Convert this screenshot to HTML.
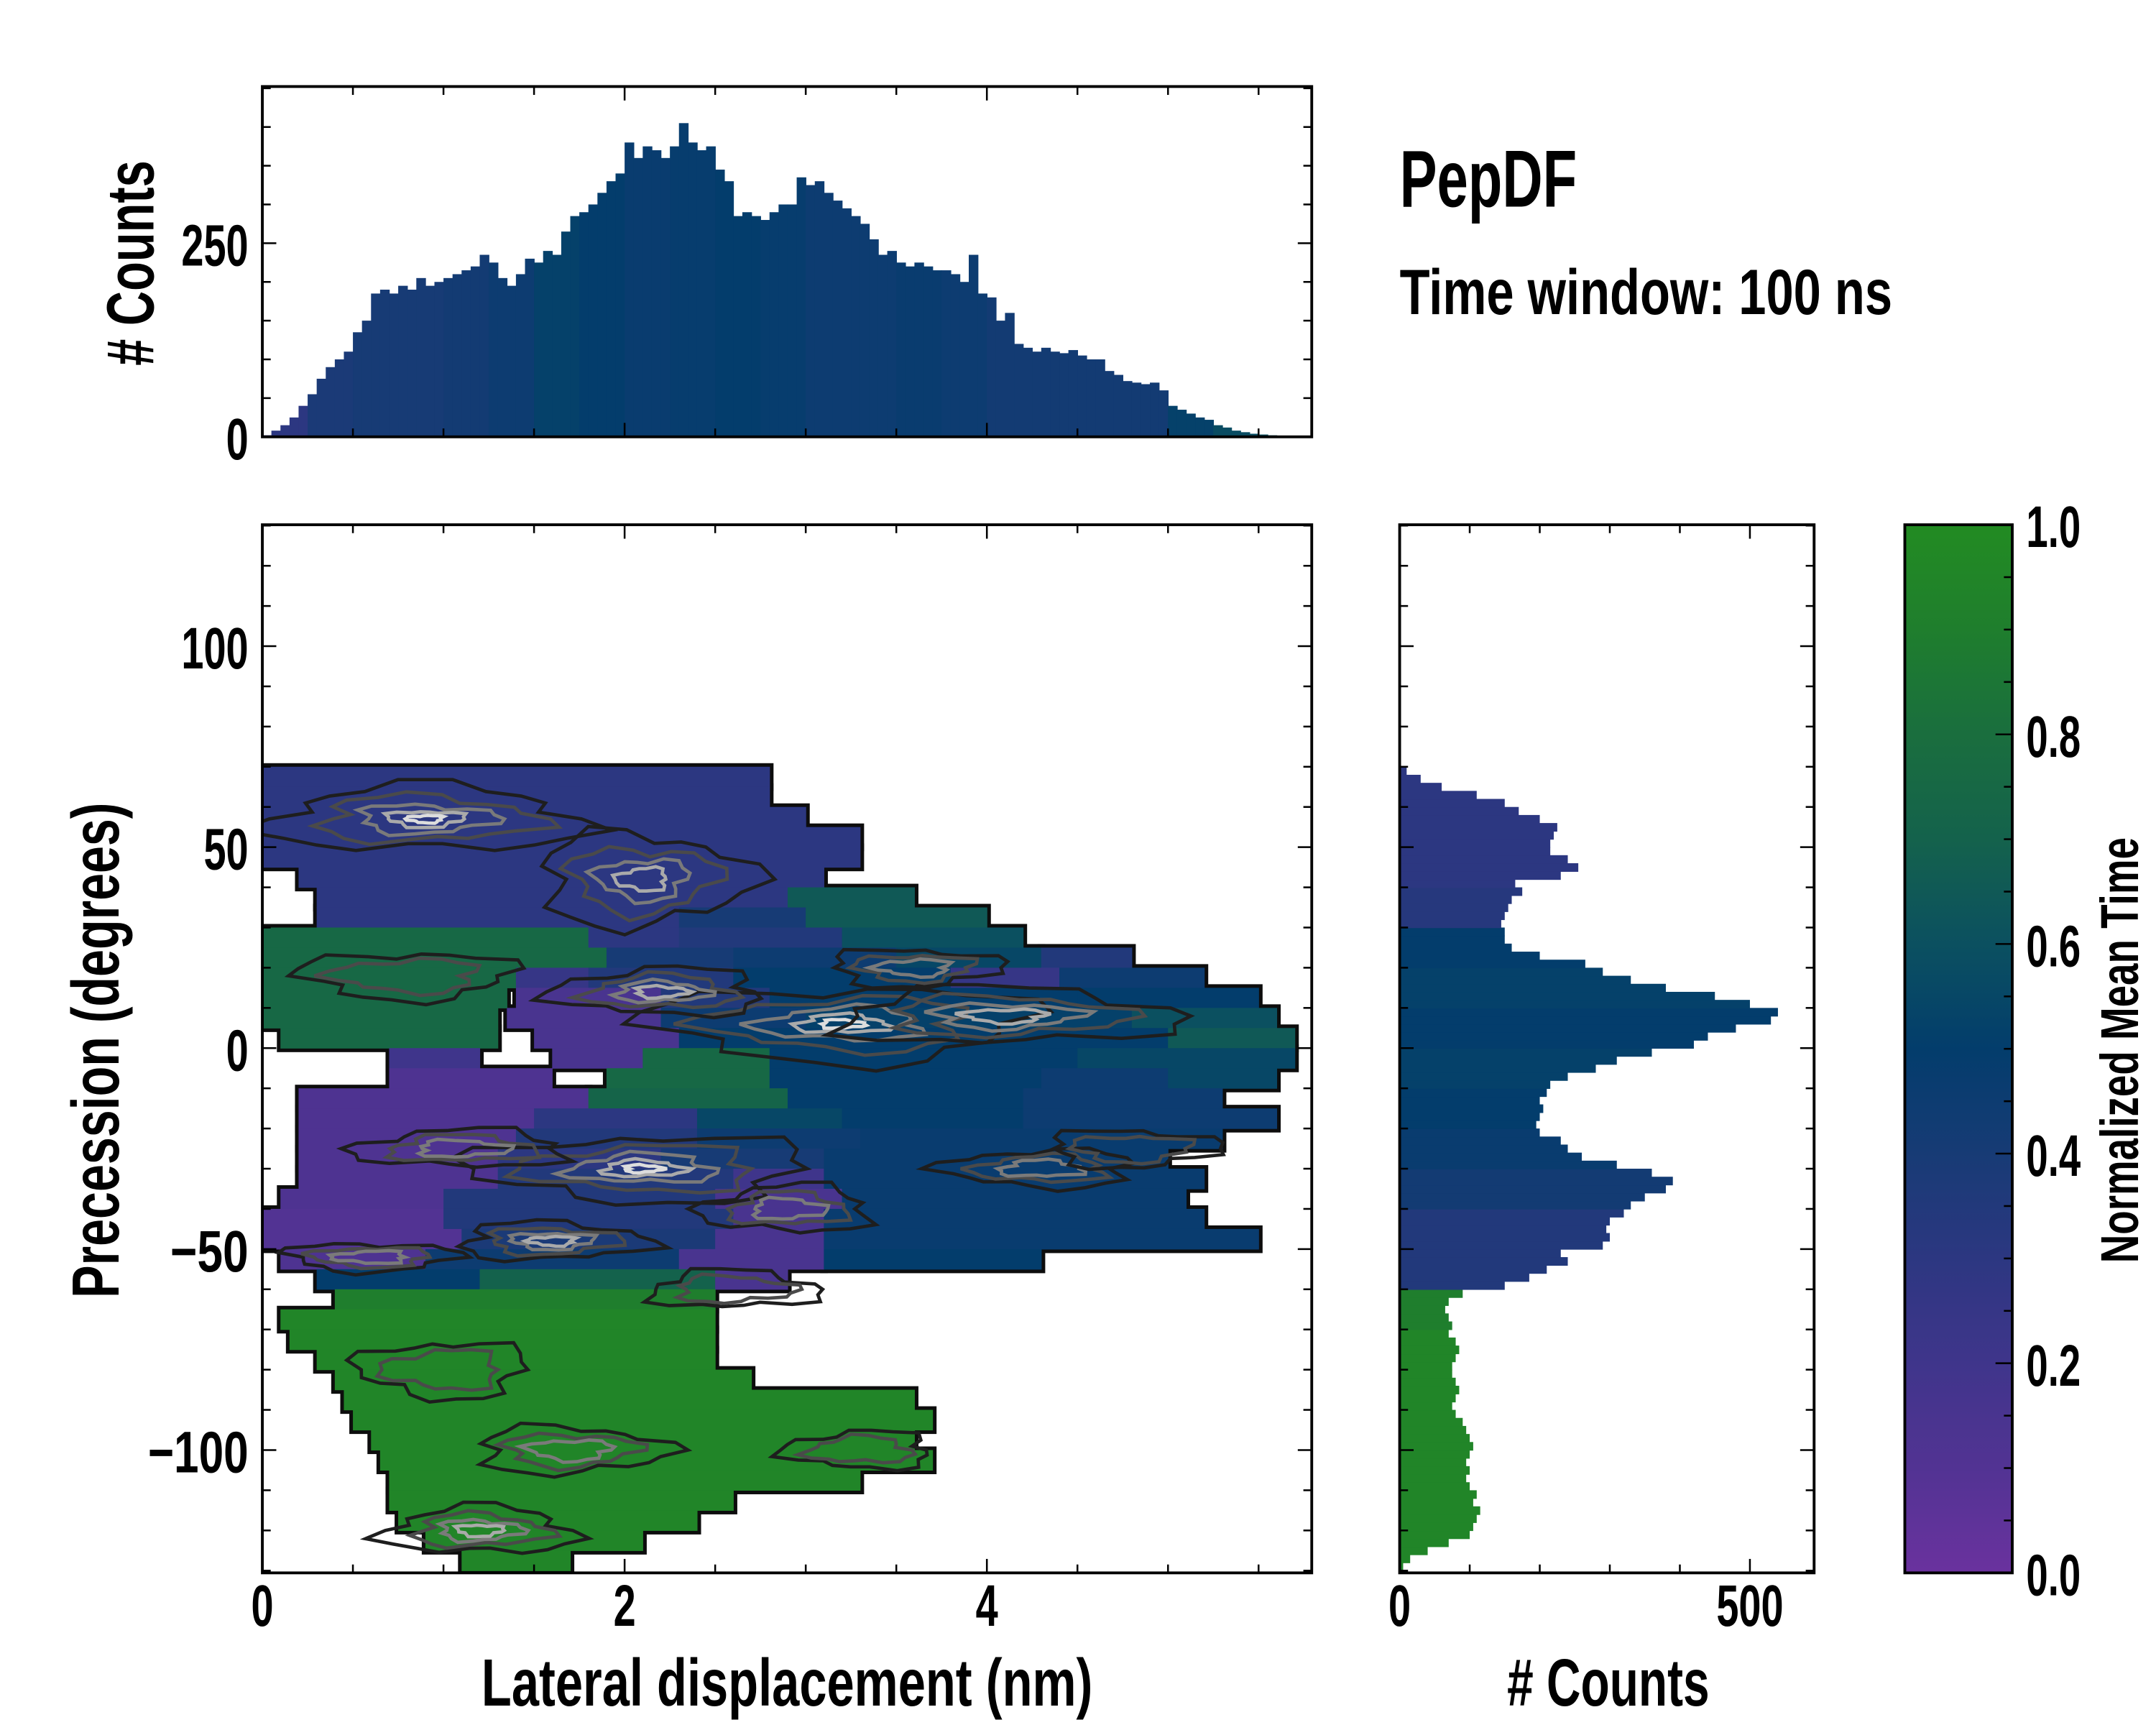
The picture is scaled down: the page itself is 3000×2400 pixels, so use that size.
<!DOCTYPE html>
<html><head><meta charset="utf-8">
<style>
html,body{margin:0;padding:0;background:#fff;}
svg{display:block;}
text{font-family:"Liberation Sans",sans-serif;font-weight:bold;fill:#000;}
</style></head>
<body>
<svg id="fig" xmlns="http://www.w3.org/2000/svg" width="3000" height="2400" viewBox="0 0 1545 1236">
<defs>
<clipPath id="mainClip"><rect x="188" y="376" width="752" height="751"/></clipPath>
<clipPath id="topClip"><rect x="188" y="62" width="752" height="251"/></clipPath>
<clipPath id="rightClip"><rect x="1003" y="376" width="297" height="751"/></clipPath>
<linearGradient id="cbGrad" x1="0" y1="1" x2="0" y2="0"></linearGradient>
<filter id="outl" x="-5%" y="-5%" width="110%" height="110%">
<feMorphology operator="dilate" radius="2.6" in="SourceAlpha" result="d"/>
<feFlood flood-color="#111"/>
<feComposite in2="d" operator="in"/>
</filter>
</defs>
<g id="topHist" clip-path="url(#topClip)"></g>
<g id="heatOutline" clip-path="url(#mainClip)" filter="url(#outl)"></g>
<g id="heat" clip-path="url(#mainClip)"></g>
<g id="contours" clip-path="url(#mainClip)"></g>
<g id="rightHist" clip-path="url(#rightClip)"></g>
<rect x="1365" y="376" width="77" height="751" fill="url(#cbGrad)" stroke="#000" stroke-width="2"/>
<g id="axes"></g>
<text x="1003" y="148" font-size="58" textLength="127" lengthAdjust="spacingAndGlyphs">PepDF</text>
<text x="1003" y="225" font-size="46" textLength="353" lengthAdjust="spacingAndGlyphs">Time window: 100 ns</text>
<text x="345" y="1222" font-size="48" textLength="438" lengthAdjust="spacingAndGlyphs">Lateral displacement (nm)</text>
<text x="1080" y="1222" font-size="48" textLength="145" lengthAdjust="spacingAndGlyphs"># Counts</text>
<text transform="translate(85,930) rotate(-90)" font-size="48" textLength="355" lengthAdjust="spacingAndGlyphs">Precession (degrees)</text>
<text transform="translate(110,262) rotate(-90)" font-size="48" textLength="147" lengthAdjust="spacingAndGlyphs"># Counts</text>
<text transform="translate(1532,905) rotate(-90)" font-size="38" textLength="305" lengthAdjust="spacingAndGlyphs">Normalized Mean Time</text>
</svg>
<script>
// ---- data ----
const topBinWidth = 0.05;
const topCounts = [2,8,15,25,40,55,75,90,100,110,135,150,185,190,185,195,190,205,195,200,205,210,215,220,235,225,205,195,210,230,225,240,235,265,285,290,300,315,330,340,380,360,375,370,360,375,405,380,370,375,345,330,285,290,285,280,290,300,300,335,325,330,315,305,295,285,275,255,235,240,225,220,225,220,215,215,210,200,235,185,180,150,160,120,115,110,115,110,108,112,105,100,100,85,80,72,70,68,70,60,40,35,30,25,22,15,12,8,6,4,3,2,1,0,0];
const topMeanTime = [0.3,0.38,0.4,0.4,0.42,0.45,0.52,0.5,0.47,0.48,0.5,0.48,0.45,0.45,0.47,0.45,0.42,0.42,0.42,0.42,0.52,0.58,0.6];
const rightStart = -130;
const rightBinWidth = 2;
const rightCounts = [5,15,40,70,100,105,110,115,105,110,100,95,100,95,100,105,100,95,90,80,75,80,85,80,75,75,80,85,80,70,75,70,65,70,90,150,185,210,240,230,290,300,295,300,320,330,350,380,390,360,310,260,240,230,200,195,200,205,200,210,215,240,280,310,360,420,440,480,530,540,500,450,380,330,290,265,200,160,150,150,145,150,155,160,175,165,230,255,240,215,215,220,225,200,170,150,110,60,30,10];
const rightMeanTime = [0.95,0.95,0.95,0.95,0.95,0.95,0.9,0.35,0.35,0.42,0.47,0.5,0.52,0.5,0.52,0.5,0.33,0.3,0.3,0.3];
const heatRowLow = [65,60,55,50,45,40,35,30,25,20,15,10,5,0,-5,-10,-15,-20,-25,-30,-35,-40,-45,-50,-55,-60,-65,-70,-75,-80,-85,-90,-95,-100,-105,-110,-115,-120,-125,-130];
const heatRowSegs = [
 [[0,2.8,0.3]],
 [[0,2.8,0.3]],
 [[0,3.0,0.3]],
 [[0,3.3,0.3]],
 [[0,3.3,0.3]],
 [[0.2,3.1,0.3]],
 [[0.3,2.9,0.3],[2.9,3.6,0.65]],
 [[0.3,2.3,0.3],[2.3,3.0,0.4],[3.0,4.0,0.65]],
 [[0,1.8,0.75],[1.8,2.3,0.3],[2.3,3.2,0.35],[3.2,4.2,0.6]],
 [[0,1.9,0.75],[1.9,2.6,0.4],[2.6,3.5,0.45],[3.5,4.3,0.55],[4.3,4.8,0.35]],
 [[0,1.4,0.75],[1.4,1.8,0.25],[1.8,2.6,0.35],[2.6,3.8,0.5],[3.8,4.4,0.25],[4.4,5.2,0.45]],
 [[0,1.35,0.75],[1.4,2.2,0.15],[2.2,2.8,0.35],[2.8,4.5,0.5],[4.5,5.5,0.5]],
 [[0,1.3,0.75],[1.35,2.2,0.15],[2.2,3.0,0.45],[3.0,4.8,0.52],[4.8,5.6,0.6]],
 [[0.1,1.3,0.75],[1.5,2.3,0.15],[2.3,3.0,0.5],[3.0,5.0,0.5],[5.0,5.7,0.65]],
 [[0.7,1.2,0.2],[1.6,2.1,0.15],[2.1,2.8,0.75],[2.8,4.5,0.5],[4.5,5.7,0.55]],
 [[0.7,1.6,0.12],[1.9,2.8,0.75],[2.8,4.3,0.5],[4.3,5.0,0.45],[5.0,5.6,0.55]],
 [[0.2,1.8,0.12],[1.8,2.9,0.72],[2.9,4.2,0.5],[4.2,5.3,0.45]],
 [[0.2,1.5,0.12],[1.5,2.4,0.3],[2.4,3.2,0.55],[3.2,4.2,0.5],[4.2,5.6,0.45]],
 [[0.2,1.4,0.12],[1.4,2.4,0.35],[2.4,3.3,0.45],[3.3,5.3,0.47]],
 [[0.2,1.3,0.12],[1.3,2.2,0.3],[2.2,3.1,0.4],[3.1,5.0,0.47]],
 [[0.2,1.3,0.12],[1.3,2.6,0.35],[2.6,3.1,0.2],[3.1,5.2,0.47]],
 [[0.1,1.0,0.12],[1.0,2.5,0.35],[2.5,3.2,0.15],[3.2,5.1,0.47]],
 [[0,1.0,0.1],[1.0,2.6,0.35],[2.6,3.1,0.15],[3.1,5.2,0.47]],
 [[0,1.1,0.1],[1.1,2.5,0.38],[2.5,3.1,0.15],[3.1,5.5,0.47]],
 [[0.1,0.9,0.12],[0.9,2.3,0.45],[2.3,3.1,0.15],[3.1,4.3,0.5]],
 [[0.3,1.2,0.5],[1.2,2.5,0.7],[2.5,2.9,0.15]],
 [[0.4,2.5,0.9]],
 [[0.1,2.5,0.95]],
 [[0.15,2.5,0.95]],
 [[0.3,2.5,0.95]],
 [[0.4,2.7,0.95]],
 [[0.45,3.6,0.95]],
 [[0.5,3.7,0.95]],
 [[0.6,3.6,0.95]],
 [[0.65,3.7,0.95]],
 [[0.7,3.3,0.95]],
 [[0.7,2.6,0.95]],
 [[0.75,2.4,0.95]],
 [[0.9,2.1,0.95]],
 [[1.1,1.7,0.95]]
];
const peakX = [0.9,2.1,3.2,2.2,4.1,3.6,2.1,1.1,1.6,0.6,4.3,1.2,1.7,0.8,3.3,2.6,4.8,1.0,2.9];
const peakY = [57,42,6,14,8,20,-30,-25,-48,-52,-30,-120,-100,18,-100,-60,-25,-80,-40];
const peakRx = [0.75,0.5,0.9,0.5,0.8,0.4,0.8,0.5,0.45,0.4,0.45,0.45,0.45,0.5,0.35,0.4,0.4,0.4,0.4];
const peakRy = [7,10,8,5,6,4,7,4,4,3,4,5,5,5,4,4,4,6,5];
const peakLevel = [4,3,4,3,3,2,4,2,3,2,2,3,2,1,1,1,1,1,2];
// ---- scales ----
const NS = "http://www.w3.org/2000/svg";
const xS = v => 188 + v * 129.8;
const yS = d => 751 - d * 2.88;
const yT = c => 313 - c * 0.555;
const xR = c => 1003 + c * 0.502;
const yC = v => 1127 - v * 751;
const cStops = [[0,"#6a329e"],[0.1,"#523393"],[0.2,"#3f358b"],[0.3,"#2c3781"],[0.4,"#173b75"],[0.5,"#033d6c"],[0.6,"#0b5060"],[0.7,"#14624c"],[0.8,"#1a6e3e"],[0.9,"#1f7e2d"],[1,"#228b22"]];
function hex(h){return [1,3,5].map(i=>parseInt(h.substr(i,2),16));}
function cmap(v){
  v=Math.max(0,Math.min(1,v));
  for(let i=0;i<cStops.length-1;i++){
    const [a,ca]=cStops[i],[b,cb]=cStops[i+1];
    if(v<=b){const t=(v-a)/(b-a);const A=hex(ca),B=hex(cb);
      return "rgb("+A.map((x,k)=>Math.round(x+(B[k]-x)*t)).join(",")+")";}
  }
  return cStops[cStops.length-1][1];
}
function el(tag,attrs,parent){const e=document.createElementNS(NS,tag);for(const k in attrs)e.setAttribute(k,attrs[k]);parent.appendChild(e);return e;}
const grad=document.getElementById("cbGrad");
for(let i=0;i<=20;i++){el("stop",{offset:(i/20),"stop-color":cmap(i/20)},grad);}
// top histogram
const gTop=document.getElementById("topHist");
topCounts.forEach((c,i)=>{
  const x0=i*topBinWidth;
  const r=el("rect",{x:xS(x0),y:yT(c),width:xS(x0+topBinWidth)-xS(x0)+0.4,height:yT(0)-yT(c),fill:cmap(topMeanTime[Math.floor(i/5)])},gTop);
  
  
});
// right histogram
const gR=document.getElementById("rightHist");
rightCounts.forEach((c,i)=>{
  const d0=rightStart+i*rightBinWidth;
  const r=el("rect",{x:xR(0),y:yS(d0+rightBinWidth),width:xR(c)-xR(0),height:yS(d0)-yS(d0+rightBinWidth)+0.4,fill:cmap(rightMeanTime[Math.floor(i/5)])},gR);
  
  
});
// heatmap
const gH=document.getElementById("heat"), gO=document.getElementById("heatOutline");
heatRowLow.forEach((lo,i)=>{
  heatRowSegs[i].forEach(s=>{
    const at={x:xS(s[0]),y:yS(lo+5),width:xS(s[1])-xS(s[0])+0.3,height:yS(lo)-yS(lo+5)+0.3};
    const r=el("rect",Object.assign({fill:cmap(s[2])},at),gH);
    
    
    const o=el("rect",Object.assign({fill:"#000"},at),gO);
    
    
  });
});
// contours (wobbly rings)
const gC=document.getElementById("contours");
const ringCols=["#1e1e1e","#4a4a4a","#7a7a7a","#aaaaaa","#dddddd"];
const ringScale=[1.15,0.8,0.5,0.28,0.13];
peakX.forEach((px,i)=>{
  for(let k=0;k<=peakLevel[i];k++){
    const cx=xS(px), cy=yS(peakY[i]);
    const rx=(xS(peakRx[i]*ringScale[k])-xS(0)), ry=(yS(0)-yS(peakRy[i]*ringScale[k]));
    const pts=[];
    const n=22;
    for(let j=0;j<n;j++){
      const a=j/n*Math.PI*2;
      const w=1+0.18*Math.sin(a*3+i*1.7+k)+0.12*Math.sin(a*7+i*2.3);
      pts.push((cx+Math.cos(a)*rx*w).toFixed(1)+","+(cy+Math.sin(a)*ry*w).toFixed(1));
    }
    const e=el("polygon",{points:pts.join(" "),fill:"none",stroke:ringCols[k],"stroke-width":2.4,"stroke-linejoin":"miter"},gC);
    
    
  }
});
// axes
const gA=document.getElementById("axes");
function frame(x,y,w,h,name){const r=el("rect",{x:x,y:y,width:w,height:h,fill:"none",stroke:"#000","stroke-width":2},gA);}
function line(x1,y1,x2,y2,w){el("line",{x1:x1,y1:y1,x2:x2,y2:y2,stroke:"#000","stroke-width":w||1.3},gA);}
function label(txt,x,y,anchor,fs){
  let w=0;for(const ch of txt){w+= ch==="."?7:(ch==="−"?24:16);}
  const t=el("text",{x:anchor==="end"?x-w:(anchor==="middle"?x-w/2:x),y:y,"font-size":fs||42,textLength:w,lengthAdjust:"spacingAndGlyphs"},gA);
  t.textContent=txt;
  
  
}
const xTicksMajor=[0,2,4], xTickLabels=["0","2","4"];
const yTicksMajor=[100,50,0,-50,-100], yTickLabels=["100","50","0","−50","−100"];
const topYTicks=[0,250], topYLabels=["0","250"];
const rightXTicks=[0,500], rightXLabels=["0","500"];
const cbTicks=[0,0.2,0.4,0.6,0.8,1.0], cbLabels=["0.0","0.2","0.4","0.6","0.8","1.0"];
frame(188,62,752,251,"top-hist-frame");
frame(188,376,752,751,"main-frame");
frame(1003,376,297,751,"right-hist-frame");
for(let v=0;v<=5.75;v+=0.5){
  const maj=Math.abs(v-Math.round(v/2)*2)<1e-6; const L=maj?10:6; const x=xS(v);
  line(x,1127,x,1127-L);line(x,376,x,376+L);line(x,313,x,313-L);line(x,62,x,62+L);
}
xTicksMajor.forEach((v,i)=>label(xTickLabels[i],xS(v),1165,"middle"));
for(let d=-130;d<=130;d+=10){
  const maj=d%50===0; const L=maj?10:6; const y=yS(d);
  line(188,y,188+L,y);line(940,y,940-L,y);line(1003,y,1003+L,y);line(1300,y,1300-L,y);
}
yTicksMajor.forEach((d,i)=>label(yTickLabels[i],178,yS(d)+16,"end"));
for(let c=0;c<=450;c+=50){const y=yT(c);if(y<62)continue;const L=c%250===0?10:6;line(188,y,188+L,y);line(940,y,940-L,y);}
topYTicks.forEach((c,i)=>label(topYLabels[i],178,yT(c)+16,"end"));
for(let c=0;c<=590;c+=100){const x=xR(c);const L=c%500===0?10:6;line(x,1127,x,1127-L);line(x,376,x,376+L);}
rightXTicks.forEach((c,i)=>label(rightXLabels[i],xR(c),1165,"middle"));
for(let v=0;v<=1.0001;v+=0.05){const y=yC(v);const maj=Math.abs(v*5-Math.round(v*5))<1e-6;line(1442,y,1442-(maj?12:6),y);}
cbTicks.forEach((v,i)=>label(cbLabels[i],1452,yC(v)+16,"start"));
</script>
</body></html>
